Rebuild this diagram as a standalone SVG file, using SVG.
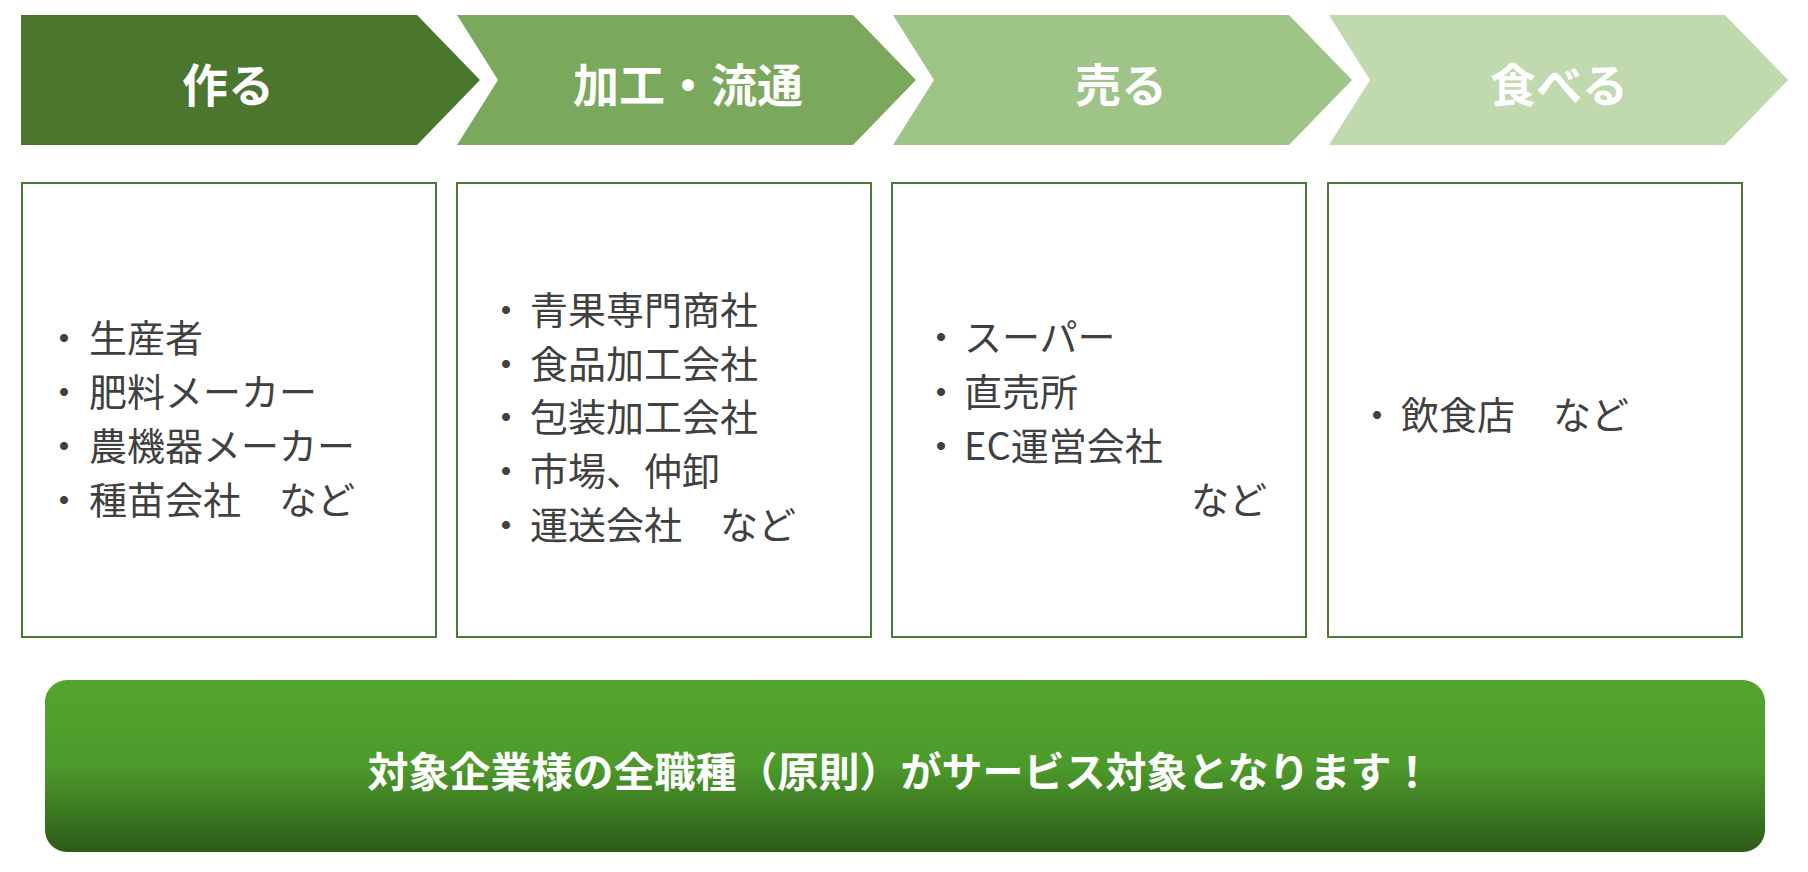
<svg xmlns="http://www.w3.org/2000/svg" width="1808" height="872" viewBox="0 0 1808 872">
<defs>
<linearGradient id="g" x1="0" y1="0" x2="0" y2="1">
<stop offset="0" stop-color="#52a52e"/><stop offset="0.5" stop-color="#4c9a2b"/><stop offset="1" stop-color="#2d5a19"/>
</linearGradient>
<style>
.h{font-family:"Noto Sans CJK JP",sans-serif;font-size:46px;font-weight:bold;fill:#fff;text-anchor:middle;dominant-baseline:central}
.box{fill:#fff;stroke:#4f7a35;stroke-width:2}
.t{font-family:"Noto Sans CJK JP",sans-serif;font-size:38px;fill:#404040;dominant-baseline:central}
.b{font-family:"Noto Sans CJK JP",sans-serif;font-size:38px;fill:#404040;text-anchor:middle;dominant-baseline:central}
</style>
</defs>
<rect width="1808" height="872" fill="#fff"/>
<g id="step1"><polygon points="21,15 417,15 480,80 417,145 21,145" fill="#4a772d"/><text class="h" x="228" y="82">作る</text></g>
<g id="step2"><polygon points="457,15 853,15 916,80 853,145 457,145 498,80" fill="#7aa85c"/><text class="h" x="688" y="82">加工・流通</text></g>
<g id="step3"><polygon points="893,15 1289,15 1352,80 1289,145 893,145 934,80" fill="#9ec487"/><text class="h" x="1121" y="82">売る</text></g>
<g id="step4"><polygon points="1329,15 1725,15 1788,80 1725,145 1329,145 1370,80" fill="#c0d9ae"/><text class="h" x="1559" y="82">食べる</text></g>
<g id="box1"><rect class="box" x="22" y="183" width="414" height="454"/>
<text class="b" x="64" y="335">・</text><text class="t" x="89" y="335">生産者</text>
<text class="b" x="64" y="389">・</text><text class="t" x="89" y="389">肥料メーカー</text>
<text class="b" x="64" y="443">・</text><text class="t" x="89" y="443">農機器メーカー</text>
<text class="b" x="64" y="497">・</text><text class="t" x="89" y="497">種苗会社　など</text></g>
<g id="box2"><rect class="box" x="457" y="183" width="414" height="454"/>
<text class="b" x="506" y="307">・</text><text class="t" x="530" y="307">青果専門商社</text>
<text class="b" x="506" y="361">・</text><text class="t" x="530" y="361">食品加工会社</text>
<text class="b" x="506" y="414">・</text><text class="t" x="530" y="414">包装加工会社</text>
<text class="b" x="506" y="468">・</text><text class="t" x="530" y="468">市場、仲卸</text>
<text class="b" x="506" y="522">・</text><text class="t" x="530" y="522">運送会社　など</text></g>
<g id="box3"><rect class="box" x="892" y="183" width="414" height="454"/>
<text class="b" x="941" y="334">・</text><text class="t" x="964" y="334">スーパー</text>
<text class="b" x="941" y="389">・</text><text class="t" x="964" y="389">直売所</text>
<text class="b" x="941" y="443">・</text><text class="t" x="964" y="443">EC運営会社</text>
<text class="t" x="1191" y="497">など</text></g>
<g id="box4"><rect class="box" x="1328" y="183" width="414" height="454"/>
<text class="b" x="1377" y="412">・</text><text class="t" x="1401" y="412">飲食店　など</text></g>
<g id="banner"><rect x="45" y="680" width="1720" height="172" rx="22" fill="url(#g)"/>
<text x="900" y="769" font-family="'Noto Sans CJK JP',sans-serif" font-size="41" font-weight="bold" fill="#fff" text-anchor="middle" dominant-baseline="central">対象企業様の全職種（原則）がサービス対象となります！</text></g>
<g id="connectors"/>
</svg>
